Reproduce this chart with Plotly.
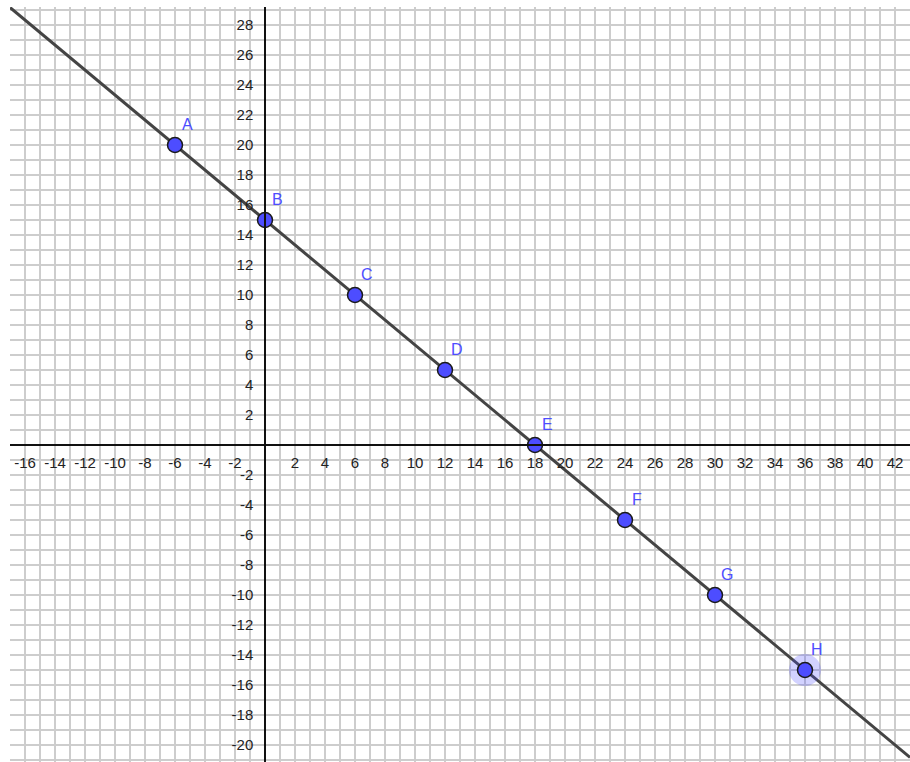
import plotly.graph_objects as go

# Points
point_names = ["A", "B", "C", "D", "E", "F", "G", "H"]
point_x = [-6, 0, 6, 12, 18, 24, 30, 36]
point_y = [20, 15, 10, 5, 0, -5, -10, -15]

# The straight line through the points, endpoints at the view edges
line_x = [-17, 43]
line_y = [29.17, -20.83]

# Axis tick values
x_ticks = list(range(-16, 43, 2))
y_ticks = list(range(-20, 29, 2))

x_range = [-17, 43]
y_range = [-21.133, 29.2]

BLUE = "#4d4dff"
GRID = "#cdcdcd"
FONT = "Liberation Sans, Arial, sans-serif"

fig = go.Figure()

fig.add_trace(go.Scatter(
    x=line_x, y=line_y, mode="lines",
    line=dict(color="#444444", width=3), hoverinfo="skip", showlegend=False,
))

# halo on H (selected point)
fig.add_trace(go.Scatter(
    x=[point_x[-1]], y=[point_y[-1]], mode="markers",
    marker=dict(size=32, color="rgba(77,77,255,0.25)", line=dict(width=0)),
    hoverinfo="skip", showlegend=False,
))

fig.add_trace(go.Scatter(
    x=point_x, y=point_y, mode="markers",
    marker=dict(size=15, color=BLUE, line=dict(color="#1a1a1a", width=1.5)),
    text=point_names, showlegend=False,
))

for n, px, py in zip(point_names, point_x, point_y):
    fig.add_annotation(
        x=px, y=py, text=n, showarrow=False, xshift=12, yshift=21,
        font=dict(family=FONT, size=16, color=BLUE),
    )

x_pos = (0 - x_range[0]) / (x_range[1] - x_range[0])
y_pos = (0 - y_range[0]) / (y_range[1] - y_range[0])

fig.update_layout(
    width=910, height=762,
    margin=dict(l=10, r=0, t=7, b=0),
    paper_bgcolor="white", plot_bgcolor="white",
    font=dict(family=FONT, size=15, color="#222222"),
    xaxis=dict(
        range=x_range, anchor="free", position=y_pos,
        tickmode="array", tickvals=x_ticks,
        ticktext=["" if v == 0 else str(v) for v in x_ticks],
        showgrid=True, gridcolor=GRID, gridwidth=1.5,
        minor=dict(tickmode="linear", tick0=0, dtick=1, showgrid=True,
                   gridcolor=GRID, gridwidth=1.5),
        showline=True, linecolor="#111111", linewidth=1.5,
        zeroline=False, ticks="", ticklabelstandoff=4,
        fixedrange=True,
    ),
    yaxis=dict(
        range=y_range, anchor="free", position=x_pos,
        tickmode="array", tickvals=y_ticks,
        ticktext=["" if v == 0 else str(v) for v in y_ticks],
        showgrid=True, gridcolor=GRID, gridwidth=1.5,
        minor=dict(tickmode="linear", tick0=0, dtick=1, showgrid=True,
                   gridcolor=GRID, gridwidth=1.5),
        showline=True, linecolor="#111111", linewidth=1.5,
        zeroline=False, ticks="", ticklabelstandoff=8,
        fixedrange=True,
    ),
)

fig.write_html(
    "out.html",
    config={"displayModeBar": False},
    post_script="document.body.style.margin='0';document.body.style.overflow='hidden';",
)
